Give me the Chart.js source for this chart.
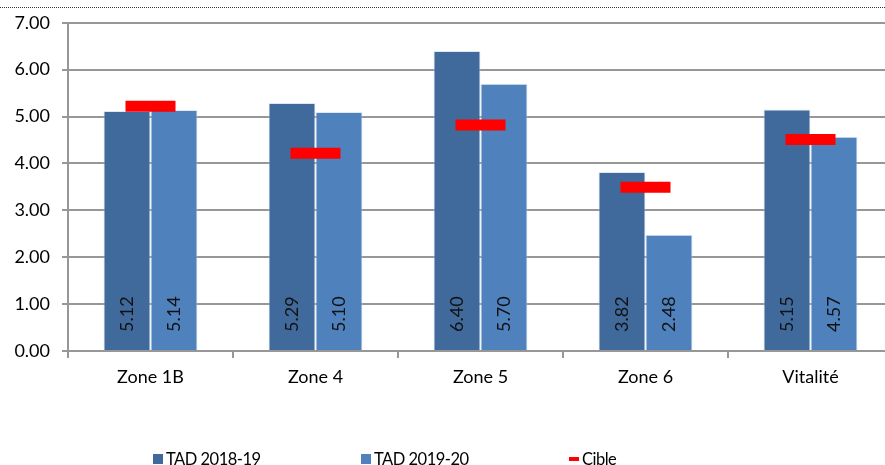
<!DOCTYPE html>
<html lang="fr">
<head>
<meta charset="utf-8">
<script src="https://cdn.jsdelivr.net/npm/chart.js@4.4.1/dist/chart.umd.min.js"></script>
<style>
  html, body { margin: 0; padding: 0; background: #fff; overflow: hidden; }
  #wrap { position: relative; width: 885px; height: 465px; overflow: hidden; }
  #topline { position: absolute; left: 0; right: 0; top: 7px; border-top: 1px dotted #333; }
  #box { position: absolute; left: 0; top: 0; width: 900px; height: 465px; }
  #legend { position: absolute; left: 153px; top: 449px; display: flex; font: 16.5px Lato, sans-serif; letter-spacing: -0.5px; color: #000; }
  #legend .item { width: 208px; display: flex; align-items: center; white-space: nowrap; }
  #legend .swatch { width: 10px; height: 10px; margin-right: 3px; }
  #legend .dash { width: 10px; height: 4px; margin-right: 3px; }
</style>
</head>
<body>
<div id="wrap">
  <div id="box"><canvas id="chart" width="900" height="465"></canvas></div>
  <div id="topline"></div>
  <div id="legend"></div>
</div>
<script>
// Données
const categories = ['Zone 1B', 'Zone 4', 'Zone 5', 'Zone 6', 'Vitalité'];
const tad1819 = [5.12, 5.29, 6.40, 3.82, 5.15];
const tad1920 = [5.14, 5.10, 5.70, 2.48, 4.57];
const cible = [5.22, 4.22, 4.82, 3.49, 4.51];
const yTicks = [0, 1, 2, 3, 4, 5, 6, 7];

const FONT = 'Lato, sans-serif';
const GRID = '#979797';

// valeurs écrites verticalement en bas des barres
const barLabels = {
    id: 'barLabels',
    afterDatasetsDraw(chart) {
        const ctx = chart.ctx;
        ctx.save();
        ctx.font = '18px ' + FONT;
        ctx.fillStyle = '#111';
        ctx.textAlign = 'left';
        ctx.textBaseline = 'middle';
        [0, 1].forEach(di => {
            const meta = chart.getDatasetMeta(di);
            meta.data.forEach((bar, i) => {
                const v = chart.data.datasets[di].data[i];
                ctx.save();
                ctx.translate(bar.x, bar.base - 18);
                ctx.rotate(-Math.PI / 2);
                ctx.fillText(v.toFixed(2), 0, 0);
                ctx.restore();
            });
        });
        ctx.restore();
    }
};

const chart = new Chart(document.getElementById('chart'), {
    type: 'bar',
    data: {
        labels: categories,
        datasets: [
            {
                label: 'TAD 2018-19',
                data: tad1819,
                backgroundColor: '#416a9c',
                borderColor: 'rgba(200,215,235,0.6)',
                borderWidth: 1,
                order: 1
            },
            {
                label: 'TAD 2019-20',
                data: tad1920,
                backgroundColor: '#4f81bd',
                borderColor: 'rgba(200,215,235,0.6)',
                borderWidth: 1,
                order: 1
            },
            {
                type: 'line',
                label: 'Cible',
                data: cible,
                showLine: false,
                pointStyle: 'line',
                pointRadius: 25,
                pointHoverRadius: 25,
                pointBorderWidth: 11,
                pointBorderColor: '#ff0000',
                pointBackgroundColor: '#ff0000',
                borderColor: '#ff0000',
                order: 0
            }
        ]
    },
    options: {
        responsive: false,
        animation: false,
        layout: { autoPadding: false, padding: { top: 21, right: 7, left: 0, bottom: 0 } },
        datasets: {
            bar: { categoryPercentage: 0.57, barPercentage: 1.0 }
        },
        plugins: {
            legend: { display: false },
            tooltip: { enabled: false }
        },
        scales: {
            x: {
                grid: {
                    offset: true,
                    drawOnChartArea: false,
                    color: GRID,
                    lineWidth: 2,
                    tickLength: 7
                },
                border: { color: GRID, width: 2 },
                ticks: { color: '#000', font: { family: FONT, size: 18 }, padding: 8 },
                afterFit: s => { s.height = 114; }
            },
            y: {
                min: 0,
                max: 7,
                afterBuildTicks: s => { s.ticks = yTicks.map(v => ({ value: v })); },
                grid: { color: GRID, lineWidth: 2, tickLength: 6 },
                border: { color: GRID, width: 2 },
                ticks: {
                    color: '#000',
                    font: { family: FONT, size: 18 },
                    padding: 12,
                    callback: v => v.toFixed(2)
                },
                afterFit: s => { s.width = 68; }
            }
        }
    },
    plugins: [barLabels]
});

// légende HTML construite à partir des séries
const legend = document.getElementById('legend');
chart.data.datasets.forEach(ds => {
    const item = document.createElement('div');
    item.className = 'item';
    const mark = document.createElement('span');
    if (ds.type === 'line') {
        mark.className = 'dash';
        mark.style.background = ds.pointBorderColor;
    } else {
        mark.className = 'swatch';
        mark.style.background = ds.backgroundColor;
    }
    item.appendChild(mark);
    item.appendChild(document.createTextNode(ds.label));
    legend.appendChild(item);
});
</script>
</body>
</html>
